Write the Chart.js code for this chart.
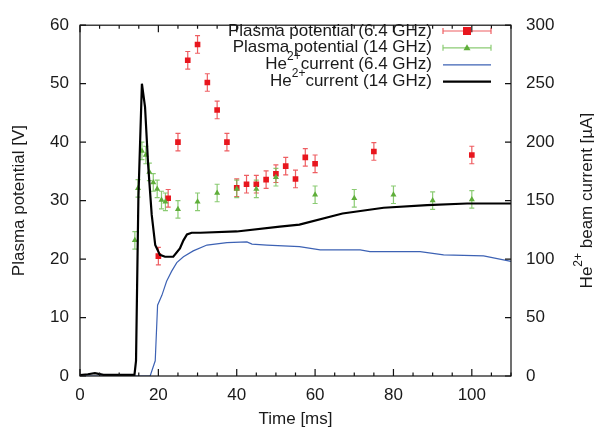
<!DOCTYPE html>
<html>
<head>
<meta charset="utf-8">
<script src="https://cdn.jsdelivr.net/npm/chart.js@4.4.0/dist/chart.umd.min.js"></script>
<style>
  html, body { margin: 0; padding: 0; background: #fff; }
  #wrap { width: 594px; height: 430px; }
</style>
</head>
<body>
<div id="wrap"><canvas id="chart" width="594" height="430"></canvas></div>
<script>
// Plasma potential, 6.4 GHz (time in ms, potential in V, error in V)
const timeRed = [20, 22.5, 25, 27.5, 30, 32.5, 35, 37.5, 40, 42.5, 45, 47.5, 50, 52.5, 55, 57.5, 60, 75, 100];
const potRed  = [20.5, 30.4, 40, 54, 56.7, 50.2, 45.5, 40, 32.2, 32.8, 32.8, 33.6, 34.6, 35.9, 33.7, 37.4, 36.3, 38.4, 37.8];
const errRed  = [1.5, 1.5, 1.5, 1.5, 1.5, 1.5, 1.5, 1.5, 1.5, 1.5, 1.5, 1.5, 1.5, 1.5, 1.5, 1.5, 1.5, 1.5, 1.5];

// Plasma potential, 14 GHz
const timeGreen = [14, 14.8, 15.8, 16.8, 17.7, 18.7, 19.7, 20.8, 21.8, 25, 30, 35, 40, 45, 50, 60, 70, 80, 90, 100];
const potGreen  = [23.2, 32.1, 38.5, 37.8, 34.9, 33.1, 32, 30.1, 29.8, 28.5, 29.8, 31.3, 32, 32, 34, 31, 30.4, 31, 30, 30.2];
const errGreen  = [1.5, 1.5, 1.5, 1.5, 1.5, 1.5, 1.5, 1.5, 1.5, 1.5, 1.5, 1.5, 1.5, 1.5, 1.5, 1.5, 1.5, 1.5, 1.5, 1.5];

// He2+ current, 6.4 GHz (µA)
const timeBlue = [0, 17.9, 19.2, 19.8, 20.9, 22.1, 23.4, 24.7, 26.4, 28.9, 32.4, 37.5, 42.6, 43.9, 47.7, 56, 61.3, 71.5, 74, 86.8, 92.8, 103, 110];
const curBlue  = [0, 0, 13, 60.6, 69, 81, 89.7, 97, 102, 107, 112, 114, 114.7, 112.8, 112, 110.6, 107.8, 107.8, 106.4, 106.4, 103.6, 102.8, 98];

// He2+ current, 14 GHz (µA)
const timeBlack = [0, 2, 3.8, 6, 10, 13.9, 14.3, 14.9, 15.8, 16.6, 17.4, 18.3, 19.2, 20.4, 21.7, 23.8, 25.5, 26.4, 27.3, 28.5, 30.7, 40, 51, 56, 67, 77.5, 88.6, 98.8, 110];
const curBlack  = [0.8, 1.5, 2.5, 1, 1, 1, 13, 152, 250, 230, 180, 138, 112, 103.6, 102, 102, 109, 116, 121, 122.5, 122.5, 123.6, 127.8, 129.4, 139, 143.9, 146.1, 147.5, 147.5];

// axis ticks
const xTicks = [0, 20, 40, 60, 80, 100];
const yTicks = [0, 10, 20, 30, 40, 50, 60];
const y2Ticks = [0, 50, 100, 150, 200, 250, 300];

const FONT = "'Liberation Sans', Arial, sans-serif";
const FS = 17;
const RED = '#e8161e', RED_ERR = 'rgba(232,40,46,0.75)';
const GREEN = '#5fae3a', GREEN_ERR = 'rgba(110,190,80,0.8)';
const BLUE = '#3d62b4', BLACK = '#000';

const pts = (xs, ys) => xs.map((x, i) => ({ x: x, y: ys[i] }));

// draw a label with a "2+" superscript after "He"
function drawHeText(ctx, rest, x, y, align) {
  const base = FS + 'px ' + FONT, sup = '12px ' + FONT;
  ctx.font = base;
  const wHe = ctx.measureText('He').width;
  const wRest = ctx.measureText(rest).width;
  ctx.font = sup;
  const wSup = ctx.measureText('2+').width;
  const total = wHe + wSup + wRest;
  let x0 = align === 'right' ? x - total : align === 'center' ? x - total / 2 : x;
  ctx.textAlign = 'left';
  ctx.textBaseline = 'middle';
  ctx.font = base;
  ctx.fillText('He', x0, y);
  ctx.font = sup;
  ctx.fillText('2+', x0 + wHe, y - 8);
  ctx.font = base;
  ctx.fillText(rest, x0 + wHe + wSup, y);
}

const decor = {
  id: 'decor',
  beforeDatasetsDraw(chart) {
    const ctx = chart.ctx, xs = chart.scales.x, ys = chart.scales.y;
    ctx.save();
    ctx.lineWidth = 1.2;
    const bars = [[timeRed, potRed, errRed, RED_ERR], [timeGreen, potGreen, errGreen, GREEN_ERR]];
    bars.forEach(([t, v, e, col]) => {
      ctx.strokeStyle = col;
      t.forEach((tt, i) => {
        const px = xs.getPixelForValue(tt);
        const top = ys.getPixelForValue(v[i] + e[i]);
        const bot = ys.getPixelForValue(v[i] - e[i]);
        ctx.beginPath();
        ctx.moveTo(px, top); ctx.lineTo(px, bot);
        ctx.moveTo(px - 2.5, top); ctx.lineTo(px + 2.5, top);
        ctx.moveTo(px - 2.5, bot); ctx.lineTo(px + 2.5, bot);
        ctx.stroke();
      });
    });
    ctx.restore();
  },
  afterDraw(chart) {
    const ctx = chart.ctx, a = chart.chartArea;
    const xs = chart.scales.x, ys = chart.scales.y, y2 = chart.scales.y2;
    ctx.save();
    // frame
    ctx.strokeStyle = '#111';
    ctx.lineWidth = 1.2;
    ctx.strokeRect(a.left, a.top, a.right - a.left, a.bottom - a.top);
    // x ticks (bottom and top, inward), minor every 5
    ctx.beginPath();
    for (let t = 0; t <= 110; t += 5) {
      const px = xs.getPixelForValue(t);
      const len = t % 20 === 0 ? 7 : 3.5;
      ctx.moveTo(px, a.bottom); ctx.lineTo(px, a.bottom - len);
      ctx.moveTo(px, a.top); ctx.lineTo(px, a.top + len);
    }
    yTicks.forEach(v => {
      const py = ys.getPixelForValue(v);
      ctx.moveTo(a.left, py); ctx.lineTo(a.left + 6, py);
    });
    y2Ticks.forEach(v => {
      const py = y2.getPixelForValue(v);
      ctx.moveTo(a.right, py); ctx.lineTo(a.right - 6, py);
    });
    ctx.stroke();

    // axis titles
    ctx.fillStyle = '#1a1a1a';
    ctx.font = FS + 'px ' + FONT;
    ctx.textAlign = 'center';
    ctx.textBaseline = 'middle';
    ctx.fillText('Time [ms]', (a.left + a.right) / 2, 419);
    ctx.save();
    ctx.translate(19, (a.top + a.bottom) / 2);
    ctx.rotate(-Math.PI / 2);
    ctx.fillText('Plasma potential [V]', 0, 0);
    ctx.restore();
    ctx.save();
    ctx.translate(587, (a.top + a.bottom) / 2);
    ctx.rotate(-Math.PI / 2);
    drawHeText(ctx, ' beam current [\u00b5A]', 0, 0, 'center');
    ctx.restore();

    // legend
    const textRight = 432, s0 = 443, s1 = 491, mid = (s0 + s1) / 2;
    const rows = [31, 47.8, 64.8, 81.6];
    ctx.font = FS + 'px ' + FONT;
    ctx.textAlign = 'right';
    ctx.fillText('Plasma potential (6.4 GHz)', textRight, rows[0]);
    ctx.fillText('Plasma potential (14 GHz)', textRight, rows[1]);
    drawHeText(ctx, 'current (6.4 GHz)', textRight, rows[2], 'right');
    drawHeText(ctx, 'current (14 GHz)', textRight, rows[3], 'right');

    [[RED_ERR, rows[0]], [GREEN_ERR, rows[1]]].forEach(([col, y]) => {
      ctx.strokeStyle = col;
      ctx.lineWidth = 1.2;
      ctx.beginPath();
      ctx.moveTo(s0, y); ctx.lineTo(s1, y);
      ctx.moveTo(s0, y - 3); ctx.lineTo(s0, y + 3);
      ctx.moveTo(s1, y - 3); ctx.lineTo(s1, y + 3);
      ctx.stroke();
    });
    ctx.fillStyle = RED;
    ctx.fillRect(mid - 4, rows[0] - 4, 8, 8);
    ctx.fillStyle = GREEN;
    ctx.beginPath();
    ctx.moveTo(mid, rows[1] - 3.5); ctx.lineTo(mid + 3.5, rows[1] + 2.5); ctx.lineTo(mid - 3.5, rows[1] + 2.5);
    ctx.closePath(); ctx.fill();
    ctx.strokeStyle = BLUE; ctx.lineWidth = 1.2;
    ctx.beginPath(); ctx.moveTo(s0, rows[2]); ctx.lineTo(s1, rows[2]); ctx.stroke();
    ctx.strokeStyle = BLACK; ctx.lineWidth = 2.2;
    ctx.beginPath(); ctx.moveTo(s0, rows[3]); ctx.lineTo(s1, rows[3]); ctx.stroke();
    ctx.restore();
  }
};

const tickFont = { family: FONT, size: FS };

new Chart(document.getElementById('chart'), {
  type: 'scatter',
  data: {
    datasets: [
      {
        label: 'Plasma potential (6.4 GHz)',
        data: pts(timeRed, potRed),
        yAxisID: 'y',
        pointStyle: 'rect',
        pointRadius: 4,
        backgroundColor: RED,
        borderColor: RED,
        borderWidth: 0,
        order: 4
      },
      {
        label: 'Plasma potential (14 GHz)',
        data: pts(timeGreen, potGreen),
        yAxisID: 'y',
        pointStyle: 'triangle',
        pointRadius: 3.5,
        backgroundColor: GREEN,
        borderColor: GREEN,
        borderWidth: 0,
        order: 3
      },
      {
        label: 'He2+ current (6.4 GHz)',
        data: pts(timeBlue, curBlue),
        yAxisID: 'y2',
        showLine: true,
        pointRadius: 0,
        borderColor: BLUE,
        borderWidth: 1.2,
        tension: 0,
        order: 2
      },
      {
        label: 'He2+ current (14 GHz)',
        data: pts(timeBlack, curBlack),
        yAxisID: 'y2',
        showLine: true,
        pointRadius: 0,
        borderColor: BLACK,
        borderWidth: 2.2,
        tension: 0,
        order: 1
      }
    ]
  },
  options: {
    responsive: false,
    animation: false,
    devicePixelRatio: 1,
    layout: { padding: { top: 16, left: 0, right: 0, bottom: 0 } },
    plugins: { legend: { display: false }, tooltip: { enabled: false } },
    scales: {
      x: {
        type: 'linear', min: 0, max: 110,
        afterFit: s => { s.height = 54; },
        afterBuildTicks: s => { s.ticks = xTicks.map(v => ({ value: v })); },
        grid: { display: false, drawTicks: false },
        border: { display: false },
        ticks: { font: tickFont, color: '#1a1a1a', padding: 9 }
      },
      y: {
        position: 'left', min: 0, max: 60,
        afterFit: s => { s.width = 80; },
        afterBuildTicks: s => { s.ticks = yTicks.map(v => ({ value: v })); },
        grid: { display: false, drawTicks: false },
        border: { display: false },
        ticks: { font: tickFont, color: '#1a1a1a', padding: 11 }
      },
      y2: {
        position: 'right', min: 0, max: 300,
        afterFit: s => { s.width = 83; },
        afterBuildTicks: s => { s.ticks = y2Ticks.map(v => ({ value: v })); },
        grid: { display: false, drawTicks: false },
        border: { display: false },
        ticks: { font: tickFont, color: '#1a1a1a', padding: 15 }
      }
    }
  },
  plugins: [decor]
});
</script>
</body>
</html>
